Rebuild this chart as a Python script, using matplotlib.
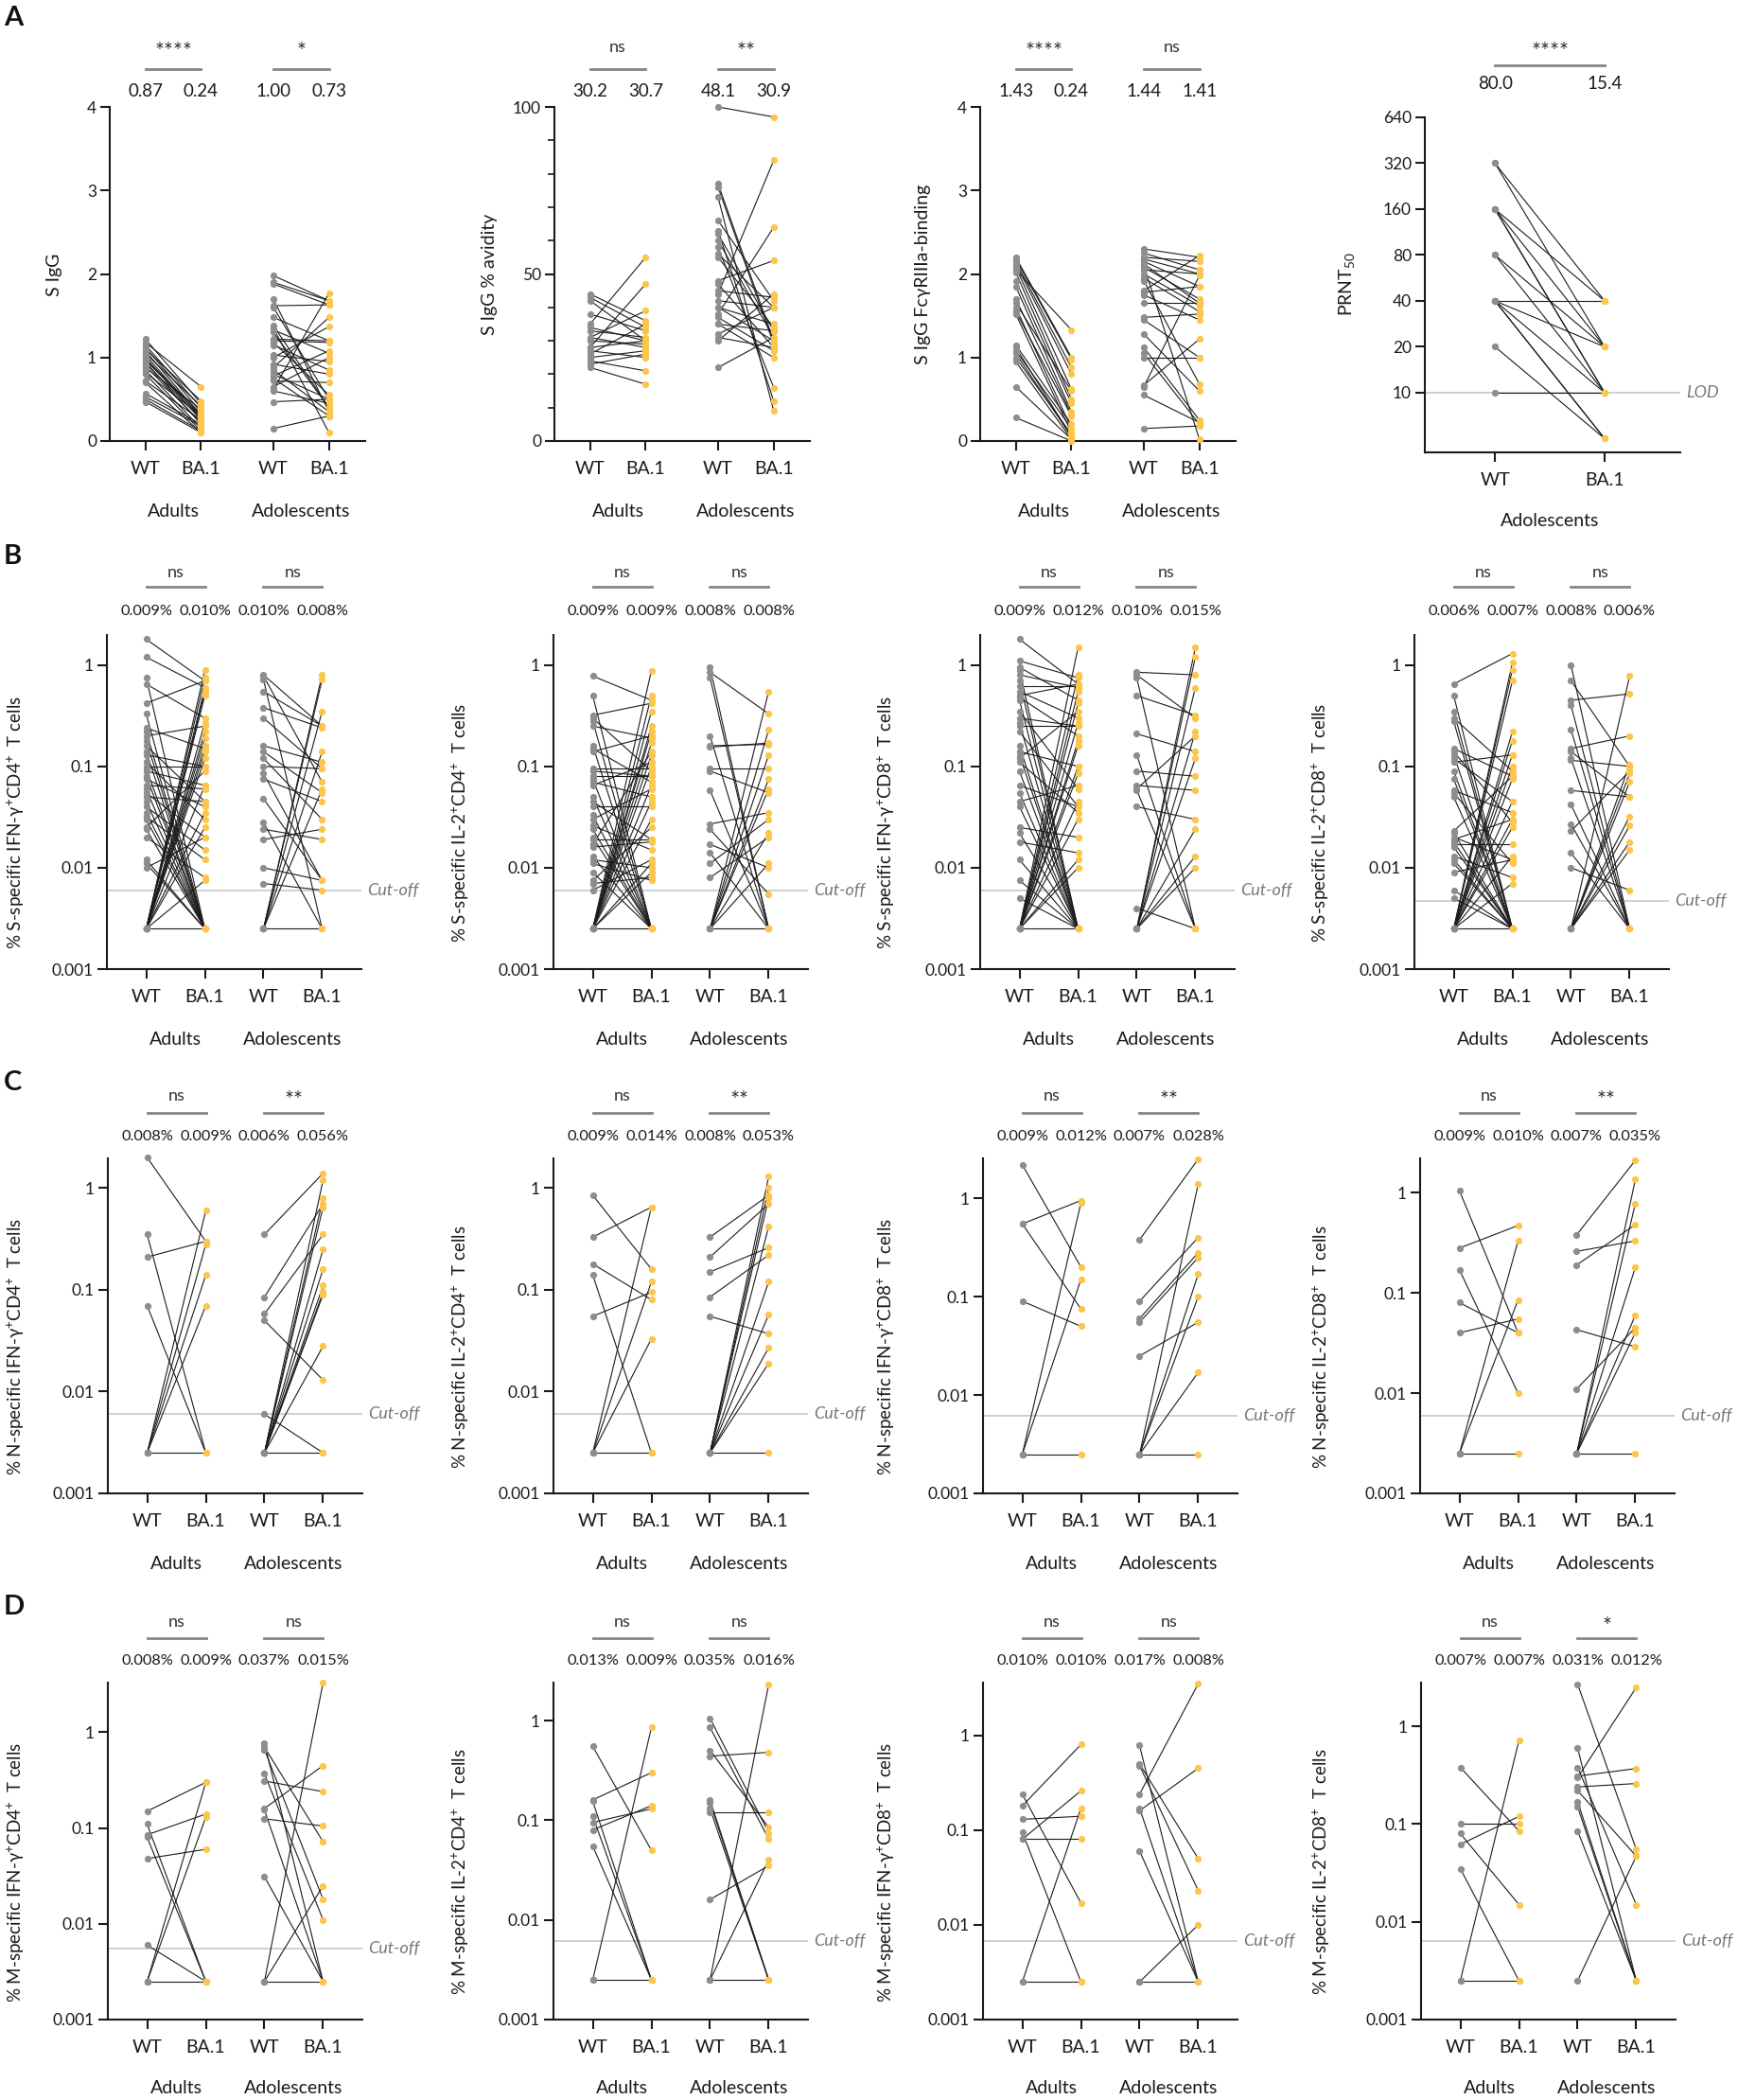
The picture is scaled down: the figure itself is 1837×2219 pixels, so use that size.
import matplotlib
matplotlib.use('Agg')
import matplotlib.pyplot as plt
import matplotlib.transforms as mtransforms
from matplotlib.ticker import NullLocator, MultipleLocator

plt.rcParams['font.family'] = ['Lato', 'DejaVu Sans']
plt.rcParams['mathtext.default'] = 'regular'

W, H = 1837, 2219
L = 0.0025  # values under the cut-off are drawn at this floor

# ---------------- A: serology ----------------
a1_adults_wt = [1.22, 1.18, 1.15, 1.12, 1.1, 1.08, 1.05, 1.03, 1.0, 0.98, 0.97, 0.95, 0.93, 0.9, 0.88, 0.85, 0.82, 0.8, 0.72, 0.7, 0.57, 0.53, 0.5, 0.47]
a1_adults_ba = [0.45, 0.65, 0.4, 0.35, 0.48, 0.3, 0.42, 0.28, 0.25, 0.33, 0.3, 0.2, 0.27, 0.22, 0.38, 0.15, 0.3, 0.12, 0.25, 0.1, 0.2, 0.18, 0.12, 0.1]
a1_adol_wt = [1.98, 1.9, 1.88, 1.7, 1.62, 1.6, 1.48, 1.38, 1.35, 1.33, 1.3, 1.22, 1.2, 1.18, 1.15, 1.03, 1.0, 0.92, 0.88, 0.85, 0.8, 0.78, 0.75, 0.72, 0.65, 0.62, 0.6, 0.47, 0.15]
a1_adol_ba = [1.68, 1.68, 1.63, 0.35, 1.63, 0.5, 1.2, 0.4, 0.1, 1.05, 0.4, 1.2, 1.18, 0.55, 0.85, 0.95, 1.37, 0.8, 1.48, 0.35, 0.5, 1.08, 0.3, 0.7, 1.0, 1.77, 0.45, 0.5, 0.3]

a2_adults_wt = [44, 43, 42, 38, 35, 34, 33, 31, 31, 30, 28, 28, 27, 26, 25, 24, 23, 22]
a2_adults_ba = [36, 34, 30, 33, 55, 30, 31, 28, 39, 29, 47, 30, 25, 35, 27, 21, 26, 17]
a2_adol_wt = [100, 77, 76, 73, 66, 63, 62, 60, 58, 56, 55, 48, 47, 45, 44, 42, 40, 40, 38, 37, 35, 35, 32, 31, 30, 22]
a2_adol_ba = [97, 30, 29, 9, 42, 12, 33, 31, 16, 40, 34, 54, 28, 43, 84, 40, 35, 30, 64, 27, 33, 25, 40, 28, 44, 31]

a3_adults_wt = [2.2, 2.18, 2.15, 2.12, 2.08, 2.05, 2.02, 1.92, 1.85, 1.7, 1.65, 1.6, 1.55, 1.52, 1.15, 1.12, 1.08, 1.05, 1.0, 0.95, 0.65, 0.28]
a3_adults_ba = [1.0, 0.98, 0.88, 0.8, 0.62, 1.33, 0.5, 0.45, 0.35, 0.32, 0.6, 0.15, 0.3, 0.1, 0.2, 0.05, 0.15, 0.05, 0.08, 0.02, 0.02, 0.0]
a3_adol_wt = [2.3, 2.25, 2.2, 2.18, 2.15, 2.12, 2.1, 2.08, 2.05, 2.0, 1.95, 1.92, 1.8, 1.78, 1.75, 1.65, 1.48, 1.45, 1.28, 1.12, 1.05, 1.0, 0.67, 0.65, 0.55, 0.15]
a3_adol_ba = [2.2, 2.05, 2.15, 2.0, 1.85, 1.65, 0.02, 1.7, 2.0, 1.62, 1.55, 0.68, 2.22, 1.85, 1.45, 1.65, 1.52, 1.0, 0.6, 0.25, 0.2, 1.0, 1.22, 1.98, 0.22, 0.18]

a4_wt = [320, 320, 160, 160, 160, 160, 80, 80, 40, 40, 40, 40, 40, 20, 10]
a4_ba = [40, 20, 40, 20, 10, 10, 20, 10, 40, 20, 10, 5, 5, 5, 10]
prnt_ticks = [10, 20, 40, 80, 160, 320, 640]

# ---------------- B: S-specific T cells ----------------
b1_adults_wt = [1.8, 1.2, 0.75, 0.65, 0.42, 0.33, 0.24, 0.22, 0.2, 0.18, 0.16, 0.14, 0.13, 0.11, 0.1, 0.095, 0.09, 0.08, 0.075, 0.065, 0.06, 0.055, 0.05, 0.045, 0.04, 0.035, 0.032, 0.03, 0.025, 0.024, 0.02, 0.012, 0.011, 0.01,
                L, L, L, L, L, L, L, L, L, L, L, L, L, L, L, L]
b1_adults_ba = [0.7, 0.6, L, 0.3, 0.7, L, 0.15, L, 0.25, L, 0.045, L, 0.1, 0.03, 0.1, L, 0.065, L, 0.04, 0.06, L, 0.02, 0.045, L, 0.015, L, 0.012, L, 0.09, L, 0.008, L, L, 0.02,
                0.9, 0.75, 0.6, 0.55, 0.5, 0.27, 0.22, 0.19, 0.16, 0.14, 0.12, 0.065, 0.035, 0.025, 0.0075, L]
b1_adol_wt = [0.8, 0.78, 0.72, 0.55, 0.38, 0.3, 0.16, 0.14, 0.12, 0.1, 0.085, 0.075, 0.048, 0.028, 0.024, 0.019, 0.01, 0.007, L, L, L, L, L, L]
b1_adol_ba = [0.25, 0.07, L, 0.25, 0.24, 0.095, 0.11, 0.055, 0.03, 0.095, 0.0075, 0.045, 0.0075, L, 0.019, 0.024, 0.0075, 0.006, 0.8, 0.72, 0.14, 0.06, 0.35, L]

b2_adults_wt = [0.78, 0.5, 0.32, 0.3, 0.28, 0.25, 0.16, 0.15, 0.14, 0.095, 0.09, 0.08, 0.075, 0.07, 0.065, 0.05, 0.045, 0.04, 0.033, 0.03, 0.026, 0.024, 0.02, 0.019, 0.017, 0.016, 0.013, 0.012, 0.011, 0.009, 0.0075, 0.007, 0.006,
                L, L, L, L, L, L, L, L, L, L, L, L, L, L]
b2_adults_ba = [0.45, L, 0.42, 0.09, L, 0.19, L, 0.07, 0.2, 0.095, 0.08, 0.08, L, 0.05, 0.11, L, 0.019, 0.04, L, 0.06, 0.015, L, L, 0.019, 0.14, 0.018, L, 0.01, 0.0075, L, 0.025, 0.008, 0.012,
                0.88, 0.5, 0.35, 0.25, 0.22, 0.17, 0.13, 0.1, 0.065, 0.045, 0.03, 0.011, 0.009, L]
b2_adol_wt = [0.95, 0.85, 0.75, 0.2, 0.16, 0.155, 0.095, 0.09, 0.058, 0.027, 0.024, 0.017, 0.014, 0.011, 0.008, L, L, L, L, L, L, L, L]
b2_adol_ba = [L, 0.33, L, L, 0.165, 0.17, 0.095, 0.055, L, 0.035, 0.0055, 0.01, L, 0.03, 0.02, 0.55, 0.23, 0.13, 0.075, 0.06, 0.022, 0.011, L]

b3_adults_wt = [1.8, 1.1, 0.95, 0.9, 0.8, 0.7, 0.62, 0.55, 0.5, 0.48, 0.45, 0.35, 0.3, 0.27, 0.25, 0.22, 0.16, 0.14, 0.13, 0.12, 0.11, 0.09, 0.065, 0.055, 0.045, 0.04, 0.025, 0.022, 0.018, 0.012, 0.0075, 0.005,
                L, L, L, L, L, L, L, L, L, L, L, L, L, L]
b3_adults_ba = [0.65, 0.75, 0.45, L, 0.6, L, 0.62, 0.3, 0.65, 0.2, L, 0.06, 0.25, L, 0.25, 0.04, L, 0.1, L, 0.35, 0.035, L, 0.04, L, 0.065, L, 0.02, L, 0.014, L, L, L,
                1.5, 0.8, 0.55, 0.42, 0.27, 0.18, 0.16, 0.1, 0.085, 0.045, 0.03, 0.012, 0.01, L]
b3_adol_wt = [0.85, 0.8, 0.75, 0.5, 0.21, 0.13, 0.09, 0.065, 0.06, 0.058, 0.04, 0.004, L, L, L, L, L, L, L, L]
b3_adol_ba = [0.8, 0.3, L, 0.32, 0.14, L, 0.08, 0.058, 0.2, L, 0.03, L, 1.5, 1.2, 0.6, 0.22, 0.12, 0.024, 0.013, 0.01]

b4_adults_wt = [0.65, 0.5, 0.35, 0.3, 0.28, 0.15, 0.14, 0.13, 0.12, 0.11, 0.09, 0.075, 0.058, 0.055, 0.05, 0.023, 0.022, 0.02, 0.019, 0.018, 0.017, 0.016, 0.013, 0.012, 0.011, 0.009, 0.006, 0.005,
                L, L, L, L, L, L, L, L, L, L, L, L, L, L]
b4_adults_ba = [1.3, L, L, 0.09, L, 0.08, 0.028, L, 0.045, 0.13, L, L, 0.035, 0.011, L, 0.08, L, 0.012, 0.03, L, 0.017, L, 0.008, L, L, 0.012, L, L,
                1.05, 0.9, 0.7, 0.22, 0.18, 0.13, 0.1, 0.075, 0.045, 0.03, 0.025, 0.013, 0.007, L]
b4_adol_wt = [1.0, 0.7, 0.45, 0.4, 0.23, 0.15, 0.14, 0.12, 0.115, 0.058, 0.042, 0.027, 0.023, 0.014, 0.01, L, L, L, L, L, L, L, L]
b4_adol_ba = [L, 0.1, 0.52, L, L, 0.2, 0.05, L, 0.1, 0.05, L, L, 0.09, L, 0.006, 0.78, 0.105, 0.085, 0.07, 0.032, 0.026, 0.018, 0.015]

# ---------------- C: N-specific T cells ----------------
c1_adults_wt = [2.0, 0.35, 0.21, 0.07, L, L, L, L, L]
c1_adults_ba = [0.3, L, 0.3, L, 0.6, 0.28, 0.14, 0.07, L]
c1_adol_wt = [0.35, 0.085, 0.058, 0.05, 0.006, L, L, L, L, L, L, L, L, L, L]
c1_adol_ba = [1.4, 0.7, 0.35, 0.013, L, 1.2, 0.8, 0.65, 0.25, 0.16, 0.11, 0.095, 0.09, 0.028, L]

c2_adults_wt = [0.85, 0.33, 0.18, 0.14, 0.055, L, L, L, L]
c2_adults_ba = [0.16, 0.65, 0.08, L, 0.095, 0.65, 0.12, 0.033, L]
c2_adol_wt = [0.33, 0.21, 0.15, 0.085, 0.055, L, L, L, L, L, L, L, L, L]
c2_adol_ba = [0.85, 0.7, 0.26, 0.22, 0.037, 1.3, 1.0, 0.8, 0.42, 0.12, 0.057, 0.027, 0.019, L]

c3_adults_wt = [2.2, 0.55, 0.55, 0.09, L, L, L]
c3_adults_ba = [0.2, 0.95, 0.075, 0.05, 0.9, 0.15, L]
c3_adol_wt = [0.38, 0.09, 0.06, 0.055, 0.025, L, L, L, L, L]
c3_adol_ba = [2.5, 0.4, 0.28, 0.25, 0.055, 1.4, 0.17, 0.1, 0.017, L]

c4_adults_wt = [1.05, 0.28, 0.17, 0.08, 0.04, L, L, L]
c4_adults_ba = [0.04, 0.47, 0.01, 0.04, 0.055, 0.33, 0.085, L]
c4_adol_wt = [0.38, 0.26, 0.19, 0.043, 0.011, L, L, L, L, L, L]
c4_adol_ba = [2.1, 0.33, 0.48, 0.029, 0.045, 1.35, 0.78, 0.18, 0.06, 0.04, L]

# ---------------- D: M-specific T cells ----------------
d1_adults_wt = [0.15, 0.11, 0.085, 0.08, 0.048, 0.006, L, L, L]
d1_adults_ba = [0.3, L, 0.14, L, 0.06, L, 0.3, 0.13, L]
d1_adol_wt = [0.77, 0.7, 0.66, 0.37, 0.31, 0.16, 0.155, 0.125, 0.031, L, L, L]
d1_adol_ba = [L, 0.072, 0.018, 0.011, 0.24, 0.45, L, 0.105, L, 3.3, 0.025, L]

d2_adults_wt = [0.55, 0.16, 0.155, 0.11, 0.095, 0.08, 0.055, L, L]
d2_adults_ba = [0.05, 0.3, L, L, 0.13, 0.14, L, 0.85, L]
d2_adol_wt = [1.05, 0.85, 0.5, 0.44, 0.16, 0.15, 0.13, 0.12, 0.016, L, L, L]
d2_adol_ba = [0.075, 0.065, 0.085, 0.48, L, L, L, 0.12, 0.035, 2.3, 0.04, L]

d3_adults_wt = [0.24, 0.18, 0.13, 0.095, 0.08, 0.08, L, L]
d3_adults_ba = [0.017, 0.8, 0.14, L, 0.26, 0.08, 0.17, L]
d3_adol_wt = [0.78, 0.5, 0.48, 0.24, 0.17, 0.16, 0.06, L, L]
d3_adol_ba = [L, 0.05, 0.023, 3.5, L, 0.45, L, 0.01, L]

d4_adults_wt = [0.38, 0.1, 0.08, 0.062, 0.035, L, L]
d4_adults_ba = [0.085, 0.1, 0.015, 0.12, L, 0.72, L]
d4_adol_wt = [2.7, 0.6, 0.38, 0.31, 0.3, 0.24, 0.22, 0.17, 0.15, 0.085, L]
d4_adol_ba = [0.055, L, 0.015, 0.37, 2.5, 0.26, 0.047, L, L, L, 0.047]

# ---------------- labels ----------------
groups_names = ['Adults', 'Adolescents']
tick_names = ['WT', 'BA.1', 'WT', 'BA.1']

a_ylabels = ['S IgG', 'S IgG % avidity', 'S IgG FcγRIIIa-binding', 'PRNT$_{50}$']
a_sigs = [['****', '*'], ['ns', '**'], ['****', 'ns'], ['****']]
a_means = [['0.87', '0.24', '1.00', '0.73'], ['30.2', '30.7', '48.1', '30.9'],
           ['1.43', '0.24', '1.44', '1.41'], ['80.0', '15.4']]

cells = ['IFN-γ$^{+}$CD4$^{+}$', 'IL-2$^{+}$CD4$^{+}$', 'IFN-γ$^{+}$CD8$^{+}$', 'IL-2$^{+}$CD8$^{+}$']
b_sigs = [['ns', 'ns']] * 4
c_sigs = [['ns', '**']] * 4
d_sigs = [['ns', 'ns'], ['ns', 'ns'], ['ns', 'ns'], ['ns', '*']]
b_means = [['0.009%', '0.010%', '0.010%', '0.008%'], ['0.009%', '0.009%', '0.008%', '0.008%'],
           ['0.009%', '0.012%', '0.010%', '0.015%'], ['0.006%', '0.007%', '0.008%', '0.006%']]
c_means = [['0.008%', '0.009%', '0.006%', '0.056%'], ['0.009%', '0.014%', '0.008%', '0.053%'],
           ['0.009%', '0.012%', '0.007%', '0.028%'], ['0.009%', '0.010%', '0.007%', '0.035%']]
d_means = [['0.008%', '0.009%', '0.037%', '0.015%'], ['0.013%', '0.009%', '0.035%', '0.016%'],
           ['0.010%', '0.010%', '0.017%', '0.008%'], ['0.007%', '0.007%', '0.031%', '0.012%']]
b_cut = [0.006, 0.006, 0.006, 0.0047]
c_cut = [0.006, 0.006, 0.0062, 0.006]
d_cut = [0.0055, 0.0062, 0.0067, 0.0063]
b_top = [1.98, 1.98, 1.98, 1.98]
c_top = [1.96, 1.96, 2.55, 2.2]
d_top = [3.3, 2.4, 3.6, 2.8]

GREY = '#8d8d8d'
GOLD = '#fcc54c'
LINE = '#1c1c1c'
BAR = '#858585'

fig = plt.figure(figsize=(W / 100, H / 100), dpi=100)


def fx(px):
    return px / W


def fy(py):
    return 1 - py / H


def make_ax(left, top, right, bottom):
    ax = fig.add_axes([fx(left), fy(bottom), (right - left) / W, (bottom - top) / H])
    for s in ['top', 'right']:
        ax.spines[s].set_visible(False)
    for s in ['left', 'bottom']:
        ax.spines[s].set_linewidth(1.5)
        ax.spines[s].set_color('#1a1a1a')
    ax.tick_params(axis='both', width=1.5, length=7, labelsize=12.5, color='#1a1a1a', labelcolor='#1a1a1a')
    ax.tick_params(axis='x', pad=8, labelsize=14)
    ax.tick_params(axis='y', pad=3)
    ax.patch.set_alpha(0)
    return ax


def draw_pairs(ax, data, xs):
    for (wt, ba), (x0, x1) in zip(data, xs):
        for a, b in zip(wt, ba):
            ax.plot([x0, x1], [a, b], color=LINE, lw=0.8, zorder=2, clip_on=False)
        ax.plot([x0] * len(wt), wt, 'o', ms=5.2, color=GREY, mec='none', zorder=3, clip_on=False)
        ax.plot([x1] * len(ba), ba, 'o', ms=5.2, color=GOLD, mec='none', zorder=3, clip_on=False)


def header(ax, xs, sigs, means, y_sig, y_line, y_mean, fs):
    tr = mtransforms.blended_transform_factory(ax.transData, fig.transFigure)
    for (x0, x1), s in zip(xs, sigs):
        ax.plot([x0, x1], [fy(y_line)] * 2, transform=tr, color=BAR, lw=2.0, clip_on=False)
        if s == 'ns':
            ax.text((x0 + x1) / 2, fy(y_sig), s, transform=tr, ha='center', va='center',
                    fontsize=13, color='#333333')
        else:
            # asterisks sit high in the font, so push them down a little
            ax.text((x0 + x1) / 2, fy(y_sig + 4), s, transform=tr, ha='center', va='center',
                    fontsize=17, color='#333333')
    flat = [x for pair in xs for x in pair]
    for x, m in zip(flat, means):
        ax.text(x, fy(y_mean), m, transform=tr, ha='center', va='center', fontsize=fs, color='#1a1a1a')


def group_labels(ax, xs, names, y):
    tr = mtransforms.blended_transform_factory(ax.transData, fig.transFigure)
    for (x0, x1), n in zip(xs, names):
        ax.text((x0 + x1) / 2, fy(y), n, transform=tr, ha='center', va='center', fontsize=14, color='#1a1a1a')


def cut_line(ax, value, right, text):
    ax.axhline(value, color='#cdcdcd', lw=1.3, zorder=1)
    tr = mtransforms.blended_transform_factory(fig.transFigure, ax.transData)
    ax.text(fx(right + 6), value, text, transform=tr, ha='left', va='center', fontsize=13,
            style='italic', color='#777777')


def ylabel(x, y, text, fs=13):
    fig.text(fx(x), fy(y), text, rotation=90, ha='center', va='center', fontsize=fs, color='#1a1a1a')


# ---------------- row A ----------------
xs_a = [(0, 1), (2.3, 3.3)]
a_lefts = [116, 586, 1036]
a_data = [
    [(a1_adults_wt, a1_adults_ba), (a1_adol_wt, a1_adol_ba)],
    [(a2_adults_wt, a2_adults_ba), (a2_adol_wt, a2_adol_ba)],
    [(a3_adults_wt, a3_adults_ba), (a3_adol_wt, a3_adol_ba)],
]
a_ylab_x = [57, 517, 975]
a_ymax = [4, 100, 4]
for i in range(3):
    left = a_lefts[i]
    ax = make_ax(left, 113, left + 270, 466)
    draw_pairs(ax, a_data[i], xs_a)
    header(ax, xs_a, a_sigs[i], a_means[i], 50, 73, 96, 13.5)
    group_labels(ax, xs_a, groups_names, 540)
    ax.set_xticks([0, 1, 2.3, 3.3], tick_names)
    if i == 1:
        ax.set_yticks([0, 50, 100])
        ax.yaxis.set_minor_locator(MultipleLocator(10))
        ax.tick_params(axis='y', which='minor', length=5, width=1.2, color='#1a1a1a')
    else:
        ax.set_yticks([0, 1, 2, 3, 4])
    ax.set_xlim(-0.64, 3.95)
    ax.set_ylim(0, a_ymax[i])
    ylabel(a_ylab_x[i], 290, a_ylabels[i], 14)

# PRNT50 panel
xs_p = [(0, 1)]
ax = make_ax(1506, 124, 1776, 478)
draw_pairs(ax, [(a4_wt, a4_ba)], xs_p)
header(ax, xs_p, a_sigs[3], a_means[3], 50, 69, 89, 13.5)
group_labels(ax, xs_p, ['Adolescents'], 550)
ax.set_yscale('log', base=2)
ax.set_yticks(prnt_ticks, [str(t) for t in prnt_ticks])
ax.yaxis.set_minor_locator(NullLocator())
ax.set_xticks([0, 1], ['WT', 'BA.1'])
ax.set_xlim(-0.64, 1.69)
ax.set_ylim(4.06, 640)
cut_line(ax, 10, 1776, 'LOD')
ylabel(1423, 300, a_ylabels[3], 14)

# ---------------- rows B, C, D ----------------
xs_t = [(0, 1), (2, 3)]
rows = [
    dict(letter='S', top=671, bottom=1024, sig=605, line=620, mean=646, group=1098,
         lefts=[113, 585, 1036, 1495], ylx=[17, 487, 937, 1396],
         data=[[(b1_adults_wt, b1_adults_ba), (b1_adol_wt, b1_adol_ba)],
               [(b2_adults_wt, b2_adults_ba), (b2_adol_wt, b2_adol_ba)],
               [(b3_adults_wt, b3_adults_ba), (b3_adol_wt, b3_adol_ba)],
               [(b4_adults_wt, b4_adults_ba), (b4_adol_wt, b4_adol_ba)]],
         sigs=b_sigs, means=b_means, cut=b_cut, ytop=b_top),
    dict(letter='N', top=1224, bottom=1578, sig=1158, line=1176, mean=1201, group=1652,
         lefts=[114, 585, 1039, 1501], ylx=[17, 487, 937, 1397],
         data=[[(c1_adults_wt, c1_adults_ba), (c1_adol_wt, c1_adol_ba)],
               [(c2_adults_wt, c2_adults_ba), (c2_adol_wt, c2_adol_ba)],
               [(c3_adults_wt, c3_adults_ba), (c3_adol_wt, c3_adol_ba)],
               [(c4_adults_wt, c4_adults_ba), (c4_adol_wt, c4_adol_ba)]],
         sigs=c_sigs, means=c_means, cut=c_cut, ytop=c_top),
    dict(letter='M', top=1778, bottom=2134, sig=1714, line=1731, mean=1755, group=2207,
         lefts=[114, 585, 1039, 1502], ylx=[17, 487, 937, 1397],
         data=[[(d1_adults_wt, d1_adults_ba), (d1_adol_wt, d1_adol_ba)],
               [(d2_adults_wt, d2_adults_ba), (d2_adol_wt, d2_adol_ba)],
               [(d3_adults_wt, d3_adults_ba), (d3_adol_wt, d3_adol_ba)],
               [(d4_adults_wt, d4_adults_ba), (d4_adol_wt, d4_adol_ba)]],
         sigs=d_sigs, means=d_means, cut=d_cut, ytop=d_top),
]

for r in rows:
    for j in range(4):
        left = r['lefts'][j]
        right = left + 269
        ax = make_ax(left, r['top'], right, r['bottom'])
        ax.set_yscale('log')
        draw_pairs(ax, r['data'][j], xs_t)
        header(ax, xs_t, r['sigs'][j], r['means'][j], r['sig'], r['line'], r['mean'], 11.8)
        group_labels(ax, xs_t, groups_names, r['group'])
        cut_line(ax, r['cut'][j], right, 'Cut-off')
        ax.set_xticks([0, 1, 2, 3], tick_names)
        ax.set_yticks([0.001, 0.01, 0.1, 1], ['0.001', '0.01', '0.1', '1'])
        ax.yaxis.set_minor_locator(NullLocator())
        ax.set_xlim(-0.67, 3.67)
        ax.set_ylim(0.001, r['ytop'][j])
        lab = '% ' + r['letter'] + '-specific ' + cells[j] + '  T cells'
        ylabel(r['ylx'][j], (r['top'] + r['bottom']) / 2 + 22, lab, 13.5)

# panel letters
for letter, y in [('A', 6), ('B', 575), ('C', 1131), ('D', 1685)]:
    fig.text(fx(4), fy(y), letter, fontsize=21, fontweight='bold', ha='left', va='top', color='#111111')

fig.savefig('out.png', dpi=100)
